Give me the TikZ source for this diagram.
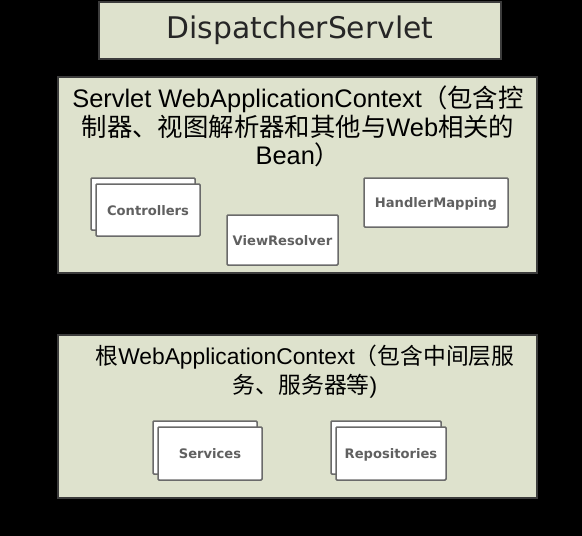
\documentclass[tikz,border=0pt]{standalone}
\usepackage{fontspec}
\setmainfont{Liberation Sans}
\newfontfamily\cjk{Noto Sans CJK SC}
\newfontfamily\djv{DejaVu Sans}
\usetikzlibrary{shadows}
\definecolor{ctxfill}{HTML}{DEE2CD}
\definecolor{ctxline}{HTML}{3C3C3C}
\definecolor{beanline}{HTML}{6A6A6A}
\definecolor{beantext}{HTML}{606060}

\begin{document}
\begin{tikzpicture}[
        x=1pt, y=-1pt,
        ctxbox/.style={draw=ctxline, fill=ctxfill, line width=1.2pt,
            inner sep=0pt, outer sep=0pt},
        ctxtext/.style={align=center, inner sep=0pt, text=black},
        beanbox/.style={draw=beanline, fill=white, line width=1.5pt,
            rounded corners=1pt, inner sep=0pt, outer sep=0pt,
            text height=11pt, text depth=1pt,
            text=beantext, font=\djv\bfseries\fontsize{13.1}{15}\selectfont},
        beanstack/.style={beanbox,
            copy shadow={shadow xshift=-5pt, shadow yshift=6pt}}
    ]
        \fill[black] (0,0) rectangle (582,536);
        \useasboundingbox (0,0) rectangle (582,536);

        \node[ctxbox, minimum width=402pt, minimum height=57pt,
            font=\djv\fontsize{29.8}{34}\selectfont, text=black!85]
            (dispatcher) at (300,30.5) {DispatcherServlet};

        \node[ctxbox, minimum width=479pt, minimum height=196pt]
            (servletctx) at (297.5,175) {};
        \node[ctxtext, font=\fontsize{25.4}{28.5}\selectfont]
            (servlettitle) at (298,126.5)
            {Servlet WebApplicationContext{\cjk （包含控}\\
             {\cjk 制器、视图解析器和其他与}Web{\cjk 相关的}\\
             Bean{\cjk ）}};
        \node[beanstack, minimum width=104pt, minimum height=52pt]
            (controllers) at (148,210) {Controllers};
        \node[beanbox, minimum width=111pt, minimum height=50pt]
            (viewresolver) at (282.5,240) {ViewResolver};
        \node[beanbox, minimum width=144pt, minimum height=49pt]
            (handlermapping) at (436,202.5) {HandlerMapping};

        \node[ctxbox, minimum width=479pt, minimum height=163pt]
            (rootctx) at (297.5,416.5) {};
        \node[ctxtext, font=\fontsize{22.8}{29}\selectfont]
            (roottitle) at (305,372)
            {{\cjk 根}WebApplicationContext{\cjk （包含中间层服}\\
             {\cjk 务、服务器等})};
        \node[beanstack, minimum width=104pt, minimum height=53pt]
            (services) at (210,453.5) {Services};
        \node[beanstack, minimum width=110pt, minimum height=53pt]
            (repositories) at (391,453.5) {Repositories};
    \end{tikzpicture}
\end{document}
